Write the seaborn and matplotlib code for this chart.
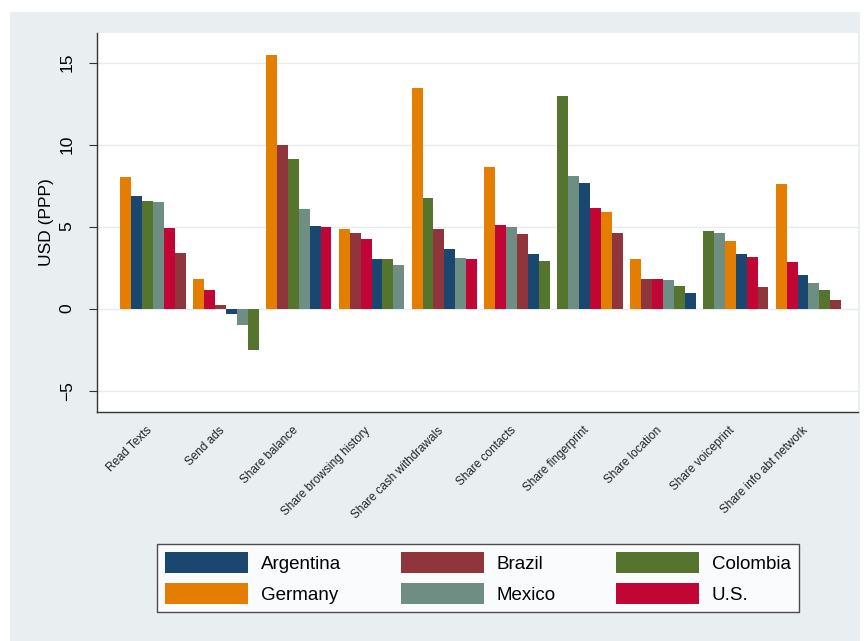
import numpy as np
import pandas as pd
import matplotlib
import matplotlib.pyplot as plt
import seaborn as sns
from matplotlib.patches import Patch, Rectangle
from matplotlib.transforms import ScaledTranslation

matplotlib.use('Agg')

# ---- data ----
categories = ['Read Texts', 'Send ads', 'Share balance', 'Share browsing history',
              'Share cash withdrawals', 'Share contacts', 'Share fingerprint',
              'Share location', 'Share voiceprint', 'Share info abt network']
countries = ['Argentina', 'Brazil', 'Colombia', 'Germany', 'Mexico', 'U.S.']

argentina = [6.88, -0.31, 5.05, 3.01, 3.62, 3.30, 7.67, 0.98, 3.34, 2.02]
brazil = [3.42, 0.24, 9.98, 4.64, 4.84, 4.56, 4.64, 1.81, 1.30, 0.55]
colombia = [6.55, -2.50, 9.10, 3.01, 6.72, 2.89, 12.93, 1.36, 4.74, 1.12]
germany = [8.00, 1.81, 15.47, 4.84, 13.44, 8.63, 5.86, 3.01, 4.15, 7.57]
mexico = [6.47, -0.98, 6.10, 2.69, 3.09, 4.99, 8.10, 1.77, 4.62, 1.59]
us = [4.93, 1.12, 4.99, 4.23, 3.01, 5.09, 6.15, 1.81, 3.15, 2.85]

country_colors = {
    'Argentina': '#1a476f',
    'Brazil': '#90353b',
    'Colombia': '#55752f',
    'Germany': '#e37e00',
    'Mexico': '#6e8e84',
    'U.S.': '#c10534',
}

values = {'Argentina': argentina, 'Brazil': brazil, 'Colombia': colombia,
          'Germany': germany, 'Mexico': mexico, 'U.S.': us}

rows = []
for c in countries:
    for cat, v in zip(categories, values[c]):
        rows.append({'category': cat, 'country': c, 'value': v})
df = pd.DataFrame(rows)

# bars sorted descending inside each group
df['rank'] = df.groupby('category')['value'].rank(ascending=False, method='first').astype(int).astype(str)
rank_order = [str(i) for i in range(1, 7)]

# ---- plot ----
fig = plt.figure(figsize=(8.68, 6.41), dpi=100, facecolor='white')
fig.patches.append(Rectangle((10 / 868, 0), 850 / 868, 629 / 641, transform=fig.transFigure,
                             facecolor='#e9eff1', edgecolor='none', zorder=-10))
ax = fig.add_axes([97 / 868, 1 - 412 / 641, 761 / 868, 379 / 641])
ax.set_facecolor('white')

sns.barplot(data=df, x='category', y='value', hue='rank', order=categories,
            hue_order=rank_order, width=0.9, gap=0, dodge=True,
            palette=['grey'] * 6, linewidth=0, legend=False, ax=ax, zorder=3)

lookup = df.set_index(['category', 'rank'])['country']
for r, cont in zip(rank_order, ax.containers):
    for cat, bar in zip(categories, cont):
        bar.set_facecolor(country_colors[lookup[(cat, r)]])
        bar.set_edgecolor('none')

ax.set_xlim(-0.77, 9.68)
ax.set_ylim(-6.3, 16.8)
ax.set_yticks([-5, 0, 5, 10, 15])
ax.yaxis.grid(True, color='#e6ecee', linewidth=1.0, zorder=0)
ax.xaxis.grid(False)
ax.set_axisbelow(True)

for s in ['top', 'right']:
    ax.spines[s].set_visible(False)
for s in ['left', 'bottom']:
    ax.spines[s].set_color('#333333')
    ax.spines[s].set_linewidth(1.0)

ax.tick_params(axis='y', length=6, labelsize=12.5, pad=10, color='#333333')
for lab in ax.get_yticklabels():
    lab.set_rotation(90)
    lab.set_va('center')
    lab.set_family('Liberation Sans')

ax.tick_params(axis='x', length=0, pad=5)
ax.set_xticks(range(len(categories)))
ax.set_xticklabels(categories, rotation=45, ha='right', rotation_mode='anchor',
                   fontsize=8.5, family='Liberation Sans', color='#222222')
shift = ScaledTranslation(-5 / 72, -4 / 72, fig.dpi_scale_trans)
for lab in ax.get_xticklabels():
    lab.set_transform(lab.get_transform() + shift)

ax.set_xlabel('')
ax.set_ylabel('USD (PPP)', fontsize=12.5, family='Liberation Sans', labelpad=4)

# legend, row-major like the reference
leg_order = ['Argentina', 'Germany', 'Brazil', 'Mexico', 'Colombia', 'U.S.']
handles = [Patch(facecolor=country_colors[c], edgecolor='none', label=c) for c in leg_order]
leg = fig.legend(handles=handles, loc='center', bbox_to_anchor=(478 / 868, 1 - 578 / 641),
                 ncol=3, frameon=True, fancybox=False, edgecolor='#222222',
                 prop={'family': 'Liberation Sans', 'size': 13.5},
                 handlelength=4.4, handleheight=1.3, columnspacing=3.2,
                 handletextpad=0.7, labelspacing=0.55, borderpad=0.45)
leg.get_frame().set_linewidth(1.0)

fig.savefig('out.png', dpi=100, facecolor='white')
